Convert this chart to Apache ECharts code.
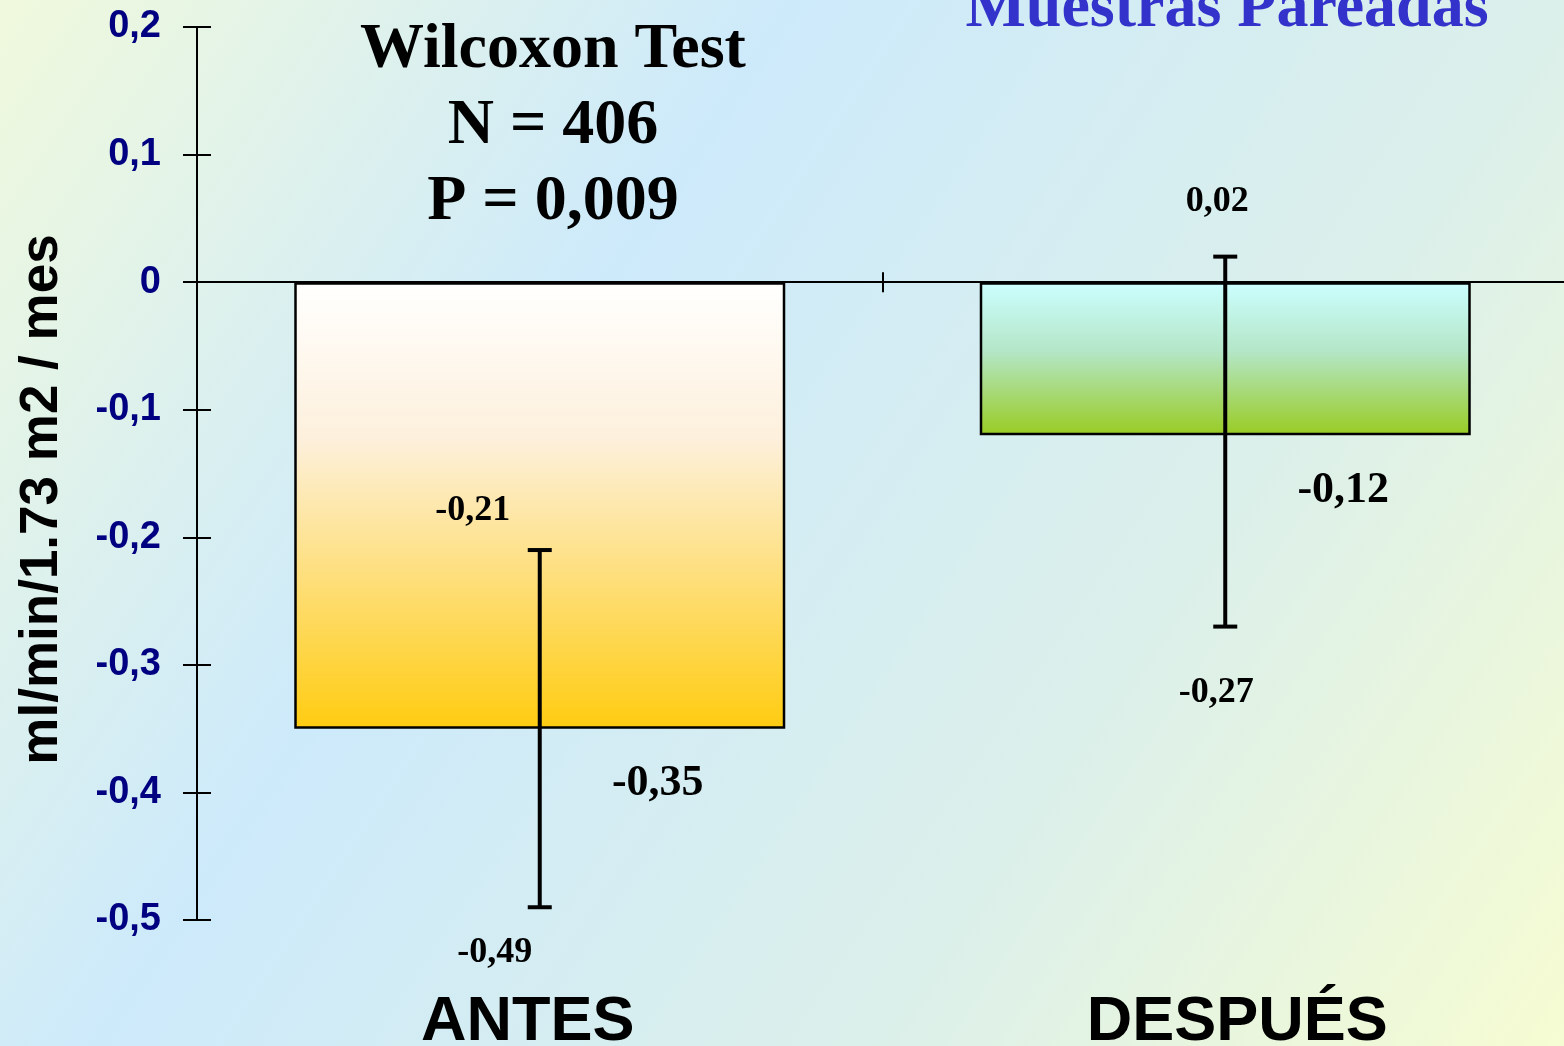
<!DOCTYPE html>
<html>
<head>
<meta charset="utf-8">
<script src="https://cdn.jsdelivr.net/npm/echarts@6/dist/echarts.min.js"></script>
<style>
  html, body { margin: 0; padding: 0; }
  #chart { width: 1564px; height: 1046px; }
</style>
</head>
<body>
<div id="chart"></div>
<script>
// data
var categories = ['ANTES', 'DESPUÉS'];
var means = [-0.35, -0.12];
var errLow = [-0.49, -0.27];
var errHigh = [-0.21, 0.02];
var yTicks = { min: -0.5, max: 0.2, interval: 0.1 };
var titleLines = ['Wilcoxon Test', 'N = 406', 'P = 0,009'];
var cornerTitle = 'Muestras Pareadas';
var yName = 'ml/min/1.73 m2 / mes';

function fmt(v) {
    return String(Math.round(v * 100) / 100).replace('.', ',');
}

var barColors = [
    new echarts.graphic.LinearGradient(0, 0, 0, 1, [
        { offset: 0, color: '#ffffff' },
        { offset: 0.35, color: '#fdf0dc' },
        { offset: 1, color: '#ffcc11' }
    ]),
    new echarts.graphic.LinearGradient(0, 0, 0, 1, [
        { offset: 0, color: '#ccffff' },
        { offset: 0.45, color: '#b4e6c8' },
        { offset: 1, color: '#99cc22' }
    ])
];

// label offsets (style only) for the error bar end labels
var hiOffset = [[-67, -39], [-8, -55]];
var loOffset = [[-45, 45], [-9, 66]];

var barData = [];
for (var i = 0; i < means.length; i++) {
    barData.push({ value: means[i], itemStyle: { color: barColors[i] } });
}
var errData = [];
for (var j = 0; j < means.length; j++) {
    errData.push([j, errLow[j], errHigh[j], means[j]]);
}

var serif = '"Liberation Serif", "DejaVu Serif", serif';
var sans = '"Liberation Sans", Arial, sans-serif';

var myChart = echarts.init(document.getElementById('chart'));
var option = {
    animation: false,
    backgroundColor: new echarts.graphic.LinearGradient(0, 0, 1, 1, [
        { offset: 0, color: '#f0f9dc' },
        { offset: 0.35, color: '#cdeafb' },
        { offset: 0.7, color: '#dcf0ea' },
        { offset: 1, color: '#f6fcd2' }
    ]),
    grid: { left: 197, right: -4, top: 27, bottom: 126, outerBoundsMode: 'none', containLabel: false },
    xAxis: [
        {
            type: 'category',
            data: categories,
            position: 'bottom',
            axisLine: { onZero: true, onZeroAxisIndex: 0, lineStyle: { color: '#000', width: 2 } },
            axisTick: { show: true, inside: true, length: 10, lineStyle: { color: '#000', width: 2 } },
            axisLabel: { show: false },
            splitLine: { show: false }
        },
        {
            type: 'category',
            data: categories,
            position: 'top',
            axisLine: { onZero: true, onZeroAxisIndex: 0, lineStyle: { color: '#000', width: 2 } },
            axisTick: { show: true, inside: true, length: 10, lineStyle: { color: '#000', width: 2 } },
            axisLabel: { show: false },
            splitLine: { show: false }
        },
        {
            type: 'category',
            data: categories,
            position: 'bottom',
            axisLine: { show: false, onZero: false },
            axisTick: { show: false },
            axisLabel: {
                margin: 71,
                fontFamily: sans,
                fontWeight: 'bold',
                fontSize: 63,
                color: '#000',
                formatter: function (v, idx) {
                    return idx === 0 ? '{a|' + v + '}' : '{b|' + v + '}';
                },
                rich: {
                    a: { fontFamily: sans, fontWeight: 'bold', fontSize: 63, color: '#000', padding: [0, 24, 0, 0] },
                    b: { fontFamily: sans, fontWeight: 'bold', fontSize: 63, color: '#000', padding: [0, 0, 0, 24] }
                }
            }
        }
    ],
    yAxis: [
        {
            type: 'value',
            min: yTicks.min,
            max: yTicks.max,
            interval: yTicks.interval,
            name: yName,
            nameLocation: 'middle',
            nameGap: 128,
            nameTextStyle: {
                fontFamily: sans,
                fontWeight: 'bold',
                fontSize: 53,
                color: '#000',
                padding: [0, 52, 0, 0]
            },
            axisLine: { show: true, lineStyle: { color: '#000', width: 2 } },
            axisTick: { show: true, inside: false, length: 14, lineStyle: { color: '#000', width: 2 } },
            axisLabel: {
                margin: 36,
                fontFamily: sans,
                fontWeight: 'bold',
                fontSize: 38,
                color: '#000080',
                formatter: function (v) { return fmt(v); }
            },
            splitLine: { show: false }
        },
        {
            type: 'value',
            min: yTicks.min,
            max: yTicks.max,
            interval: yTicks.interval,
            position: 'left',
            axisLine: { show: false },
            axisTick: { show: true, inside: true, length: 14, lineStyle: { color: '#000', width: 2 } },
            axisLabel: { show: false },
            splitLine: { show: false }
        }
    ],
    graphic: [
        {
            type: 'text',
            x: 553,
            y: 12,
            style: {
                text: titleLines.join('\n'),
                align: 'center',
                verticalAlign: 'top',
                font: 'bold 64px ' + serif,
                lineHeight: 76,
                fill: '#000'
            }
        },
        {
            type: 'text',
            x: 1227,
            y: 9,
            style: {
                text: cornerTitle,
                align: 'center',
                verticalAlign: 'middle',
                font: 'bold 64px ' + serif,
                fill: '#3333cc'
            }
        }
    ],
    series: [
        {
            type: 'bar',
            xAxisIndex: 0,
            yAxisIndex: 0,
            data: barData,
            barWidth: 491,
            itemStyle: { borderColor: '#000', borderWidth: 2.5 },
            label: { show: false },
            z: 2
        },
        {
            type: 'custom',
            xAxisIndex: 0,
            yAxisIndex: 0,
            data: errData,
            z: 5,
            renderItem: function (params, api) {
                var idx = params.dataIndex;
                var x = api.value(0);
                var lo = api.coord([x, api.value(1)]);
                var hi = api.coord([x, api.value(2)]);
                var mid = api.coord([x, api.value(3)]);
                var cap = 12;
                var line = { stroke: '#000', lineWidth: 4 };
                var txtSmall = { font: 'bold 36px ' + serif, fill: '#000', align: 'center', verticalAlign: 'middle' };
                var txtBig = { font: 'bold 44px ' + serif, fill: '#000', align: 'center', verticalAlign: 'middle' };
                return {
                    type: 'group',
                    children: [
                        { type: 'line', shape: { x1: lo[0], y1: lo[1], x2: hi[0], y2: hi[1] }, style: line },
                        { type: 'line', shape: { x1: lo[0] - cap, y1: lo[1], x2: lo[0] + cap, y2: lo[1] }, style: line },
                        { type: 'line', shape: { x1: hi[0] - cap, y1: hi[1], x2: hi[0] + cap, y2: hi[1] }, style: line },
                        { type: 'text', x: hi[0] + hiOffset[idx][0], y: hi[1] + hiOffset[idx][1],
                          style: Object.assign({ text: fmt(api.value(2)) }, txtSmall) },
                        { type: 'text', x: lo[0] + loOffset[idx][0], y: lo[1] + loOffset[idx][1],
                          style: Object.assign({ text: fmt(api.value(1)) }, txtSmall) },
                        { type: 'text', x: mid[0] + 118, y: mid[1] + 55,
                          style: Object.assign({ text: fmt(api.value(3)) }, txtBig) }
                    ]
                };
            }
        }
    ]
};
myChart.setOption(option);
</script>
</body>
</html>
